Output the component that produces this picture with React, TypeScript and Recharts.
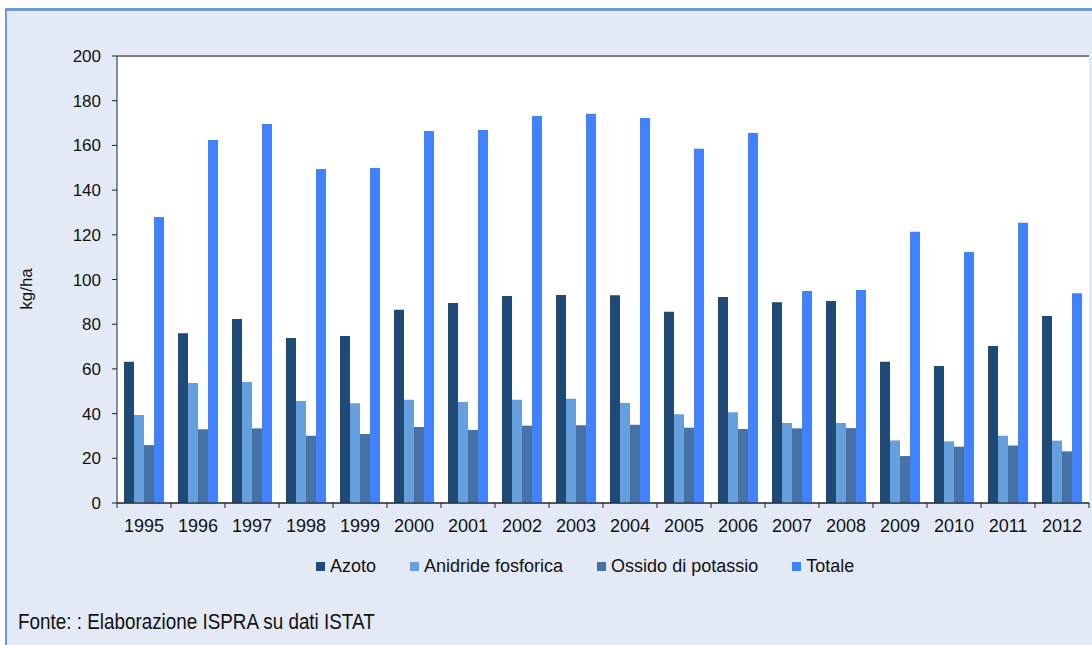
import { BarChart, Bar, XAxis, YAxis, CartesianGrid, Legend, ReferenceLine, Label } from 'recharts';

const years = ['1995', '1996', '1997', '1998', '1999', '2000', '2001', '2002', '2003', '2004', '2005', '2006', '2007', '2008', '2009', '2010', '2011', '2012'];
const azoto = [63.2, 75.9, 82.3, 73.8, 74.7, 86.5, 89.5, 92.6, 93.1, 92.9, 85.6, 92.2, 89.8, 90.4, 63.2, 61.3, 70.2, 83.7];
const anidride = [39.4, 53.7, 54.1, 45.6, 44.6, 46.2, 45.2, 46.2, 46.7, 44.7, 39.7, 40.6, 35.8, 35.8, 28.0, 27.6, 30.1, 27.9];
const ossido = [25.9, 33.0, 33.4, 30.1, 30.9, 34.0, 32.7, 34.6, 34.8, 35.0, 33.7, 33.1, 33.4, 33.5, 21.0, 25.2, 25.7, 23.1];
const totale = [128.0, 162.4, 169.6, 149.4, 149.9, 166.4, 166.9, 173.2, 174.2, 172.3, 158.5, 165.5, 94.9, 95.3, 121.4, 112.3, 125.4, 93.8];
const yTicks = [0, 20, 40, 60, 80, 100, 120, 140, 160, 180, 200];

const series = [
  { key: 'azoto', name: 'Azoto', color: '#1E4A75' },
  { key: 'anidride', name: 'Anidride fosforica', color: '#65A0DC' },
  { key: 'ossido', name: 'Ossido di potassio', color: '#4672A6' },
  { key: 'totale', name: 'Totale', color: '#4282FF' },
];

const data = years.map((year, i) => ({
  year,
  azoto: azoto[i],
  anidride: anidride[i],
  ossido: ossido[i],
  totale: totale[i],
}));

const W = 1092;
const H = 600;
const M = { top: 56, right: 3, left: 57, bottom: 67 };
const Y_AXIS_W = 60;
const BAND = (W - M.left - Y_AXIS_W - M.right) / years.length;
const FONT = "'Liberation Sans', Arial, sans-serif";

function XTick(props: any) {
  const { x, y, payload, index } = props;
  const half = BAND / 2;
  return (
    <g>
      <line x1={x - half} x2={x - half} y1={y - 5} y2={y} stroke="#222" />
      {index === years.length - 1 && (
        <line x1={x + half} x2={x + half} y1={y - 5} y2={y} stroke="#222" />
      )}
      <text x={x} y={y + 24} textAnchor="middle" fontSize={18} fill="#111" fontFamily={FONT}>
        {payload.value}
      </text>
    </g>
  );
}

function LegendContent() {
  return (
    <div style={{ display: 'flex', alignItems: 'center', fontFamily: FONT, fontSize: 18, color: '#111' }}>
      {series.map((s) => (
        <div key={s.key} style={{ display: 'flex', alignItems: 'center', marginRight: 34 }}>
          <span style={{ width: 9, height: 9, background: s.color, marginRight: 5, display: 'inline-block' }} />
          <span>{s.name}</span>
        </div>
      ))}
    </div>
  );
}

export default function App() {
  return (
    <div style={{ position: 'absolute', left: 0, top: 0, width: W, height: 645, background: '#fff', overflow: 'hidden' }}>
      <div
        style={{
          position: 'absolute',
          left: 5,
          top: 8,
          width: W,
          height: 645,
          background: '#E3EAF5',
          borderTop: '3px solid #6E9BD7',
          borderLeft: '2px solid #6E9BD7',
        }}
      />
      <div style={{ position: 'absolute', left: 0, top: 0 }}>
        <BarChart width={W} height={H} data={data} margin={M} barCategoryGap={7} barGap={0}>
          <CartesianGrid horizontal vertical={false} stroke="#222" fill="#fff" />
          <ReferenceLine yAxisId="l" y={200} stroke="#808080" strokeWidth={2} />
          <XAxis
            dataKey="year"
            axisLine={{ stroke: '#222' }}
            tickLine={false}
            tickSize={5}
            tickMargin={0}
            interval={0}
            height={30}
            tick={<XTick />}
          />
          <YAxis
            yAxisId="l"
            domain={[0, 200]}
            ticks={yTicks}
            width={Y_AXIS_W}
            axisLine={{ stroke: '#222' }}
            tickLine={{ stroke: '#222' }}
            tickSize={5}
            tickMargin={11}
            tick={{ fontSize: 17, fill: '#111', fontFamily: FONT }}
          >
            <Label
              content={() => (
                <text x={32} y={289} transform="rotate(-90 32 289)" textAnchor="middle" fontSize={17} fill="#111" fontFamily={FONT}>
                  kg/ha
                </text>
              )}
            />
          </YAxis>
          <YAxis
            yAxisId="r"
            orientation="right"
            domain={[0, 200]}
            width={0}
            tick={false}
            tickLine={false}
            axisLine={{ stroke: '#8c8c8c', strokeWidth: 2 }}
          />
          <Legend
            verticalAlign="middle"
            align="center"
            layout="horizontal"
            content={<LegendContent />}
            wrapperStyle={{ top: 556, left: 316, width: 700 }}
          />
          {series.map((s) => (
            <Bar key={s.key} yAxisId="l" dataKey={s.key} name={s.name} fill={s.color} isAnimationActive={false} />
          ))}
        </BarChart>
      </div>
      <div
        style={{
          position: 'absolute',
          left: 18,
          top: 609,
          fontFamily: FONT,
          fontSize: 22,
          color: '#111',
          whiteSpace: 'nowrap',
          transform: 'scaleX(0.857)',
          transformOrigin: 'left top',
        }}
      >
        Fonte: : Elaborazione ISPRA su dati ISTAT
      </div>
    </div>
  );
}
